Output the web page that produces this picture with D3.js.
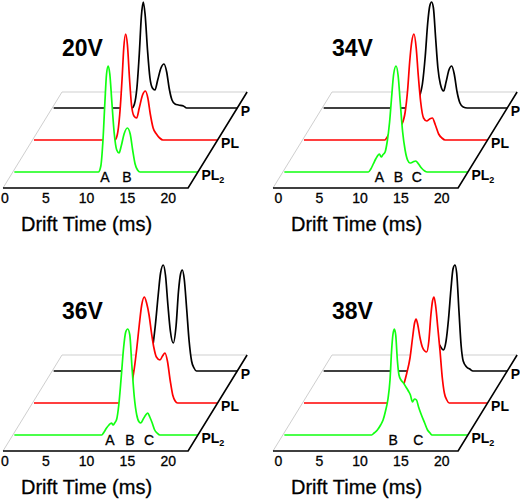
<!DOCTYPE html>
<html><head><meta charset="utf-8">
<script src="https://cdn.jsdelivr.net/npm/d3@7"></script>
<style>
html,body{margin:0;padding:0;background:#fff;}
text{font-family:"Liberation Sans",Arial,sans-serif;}
</style></head>
<body>
<script>
// ---------- data ----------
const voltages = ["20V", "34V", "36V", "38V"];
const seriesNames = ["P", "PL", "PL2"];
const tickValues = [0, 5, 10, 15, 20];
const axisTitle = "Drift Time (ms)";

// [drift time (ms), relative intensity]
const v20P = [[0,0],[9.6,0],[9.9,4],[10.2,20],[10.5,55],[10.75,92],[10.98,106],[11.2,94],[11.5,58],[11.8,30],[12.1,20],[12.41,18],[12.75,28],[13.15,40],[13.52,44],[13.85,36],[14.15,20],[14.5,8],[14.87,4],[15.3,3],[15.9,2],[16.3,0],[22.5,0]];
const v20PL = [[0,0],[9.9,0],[10.2,5],[10.5,25],[10.8,62],[11.0,92],[11.23,106],[11.45,95],[11.7,62],[11.95,35],[12.25,24],[12.58,22],[12.9,32],[13.3,45],[13.65,49],[13.95,42],[14.25,26],[14.6,12],[15.0,6],[15.4,2],[15.8,0],[22.5,0]];
const v20PL2 = [[0,0],[10.3,0],[10.6,6],[10.85,30],[11.1,70],[11.3,98],[11.5,106],[11.7,98],[11.95,70],[12.25,38],[12.55,22],[12.83,19],[13.1,26],[13.45,38],[13.85,44],[14.2,38],[14.5,22],[14.8,8],[15.1,2],[15.4,0],[22.5,0]];

const v34P = [[0,0],[10.5,0],[11.0,2],[11.4,6],[11.8,13],[12.1,24],[12.45,52],[12.75,85],[13.0,102],[13.23,106],[13.45,100],[13.72,70],[14.0,40],[14.3,24],[14.7,17],[15.0,26],[15.35,38],[15.69,42],[16.0,34],[16.35,16],[16.7,5],[17.1,1],[17.6,0],[22.5,0]];
const v34PL = [[0,0],[9.9,0],[10.2,3],[10.6,8],[11.0,10],[11.5,12],[12.0,16],[12.4,28],[12.7,50],[12.95,78],[13.2,98],[13.48,106],[13.75,92],[14.0,65],[14.3,38],[14.65,22],[15.04,19],[15.4,21],[15.73,22],[16.1,15],[16.5,6],[16.9,2],[17.3,0],[22.5,0]];
const v34PL2 = [[0,0],[10.3,0],[10.6,3],[10.9,8],[11.2,13],[11.5,17],[11.65,18],[11.87,15],[12.1,17.5],[12.35,20],[12.6,30],[12.9,50],[13.15,75],[13.4,98],[13.69,106],[13.95,96],[14.2,70],[14.5,40],[14.8,22],[15.1,12],[15.4,9],[15.75,10],[16.1,11],[16.45,8],[16.8,4],[17.2,1],[17.5,0],[22.5,0]];

const v36P = [[0,0],[11.0,0],[11.4,3],[11.8,10],[12.1,22],[12.45,45],[12.8,75],[13.1,98],[13.43,106],[13.7,96],[14.0,66],[14.3,40],[14.66,28],[15.0,45],[15.3,80],[15.55,97],[15.76,101],[16.0,92],[16.3,62],[16.6,30],[16.9,10],[17.2,3],[17.5,0],[22.5,0]];
const v36PL = [[0,0],[10.6,0],[10.9,2],[11.3,4],[11.7,10],[12.0,20],[12.3,35],[12.6,55],[12.9,78],[13.2,98],[13.52,106],[13.8,100],[14.1,88],[14.4,70],[14.7,55],[15.0,46],[15.44,43],[15.75,47],[16.05,50],[16.35,42],[16.7,22],[17.0,8],[17.3,2],[17.6,0],[22.5,0]];
const v36PL2 = [[0,0],[10.7,0],[11.0,3],[11.3,7],[11.6,10],[11.9,12],[12.1,10],[12.3,12],[12.55,16],[12.8,30],[13.1,58],[13.4,88],[13.65,103],[13.9,106],[14.15,100],[14.4,70],[14.7,38],[15.0,20],[15.3,13],[15.5,12],[15.8,16],[16.1,20],[16.35,22],[16.6,18],[16.9,12],[17.2,5],[17.5,2],[17.85,0],[22.5,0]];

const v38P = [[0,0],[10.8,0],[11.3,2],[11.8,5],[12.3,10],[12.8,18],[13.3,26],[13.8,30],[14.2,26],[14.66,21],[15.0,30],[15.3,52],[15.6,82],[15.85,102],[16.09,106],[16.3,98],[16.58,60],[16.85,25],[17.1,10],[17.52,4],[17.9,2],[18.3,0],[22.5,0]];
const v38PL = [[0,0],[10.3,0],[10.8,2],[11.3,5],[11.8,10],[12.2,18],[12.6,30],[12.99,45],[13.3,65],[13.55,80],[13.73,84],[13.95,78],[14.2,66],[14.5,56],[14.8,52],[15.03,51],[15.3,62],[15.55,88],[15.75,102],[15.93,106],[16.15,96],[16.4,75],[16.67,52],[16.95,25],[17.2,10],[17.5,3],[17.8,0],[22.5,0]];
const v38PL2 = [[0,0],[10.7,0],[11.0,2],[11.4,5],[11.8,10],[12.1,15],[12.4,24],[12.7,36],[12.95,55],[13.15,85],[13.3,100],[13.48,106],[13.65,100],[13.85,75],[14.05,60],[14.3,55],[14.6,52],[14.9,48],[15.2,44],[15.45,40],[15.7,33],[15.95,36],[16.2,35],[16.45,28],[16.8,20],[17.2,12],[17.55,5],[17.85,2],[18.1,0],[22.5,0]];

// peak labels [label, drift time]
const v20Peaks = [["A",11.11],["B",13.8]];
const v34Peaks = [["A",11.64],["B",13.97],["C",16.22]];
const v36Peaks = [["A",11.72],["B",14.17],["C",16.5]];
const v38Peaks = [["B",13.35],["C",16.41]];

// ---------- layout / style ----------
const W = 520, H = 502;
const colors = {P: "#000000", PL: "#ff0000", PL2: "#11ff11"};
const depthOf = {P: 5, PL: 3, PL2: 1};
const backDepth = 6;
const ddx = 59 / 6, ddy = -16;
const panels = [
  {v: voltages[0], ox: 0,   oy: 0,   tickShift: 0,   series: {P: v20P, PL: v20PL, PL2: v20PL2}, peaks: v20Peaks},
  {v: voltages[1], ox: 270, oy: 0,   tickShift: 3.5, series: {P: v34P, PL: v34PL, PL2: v34PL2}, peaks: v34Peaks},
  {v: voltages[2], ox: 0,   oy: 263, tickShift: 0,   series: {P: v36P, PL: v36PL, PL2: v36PL2}, peaks: v36Peaks},
  {v: voltages[3], ox: 270, oy: 263, tickShift: 3.5, series: {P: v38P, PL: v38PL, PL2: v38PL2}, peaks: v38Peaks}
];

const svg = d3.select("body").append("svg").attr("width", W).attr("height", H);

panels.forEach(p => {
  const g = svg.append("g").attr("transform", `translate(${p.ox},${p.oy})`);
  const x = d3.scaleLinear().domain([0, 22.5]).range([4.5, 188.1]);
  const hY = d3.scaleLinear().domain([0, 106]).range([0, 106]);
  const y0 = 188;
  const x0 = x(0), x1 = x(22.5);
  const bdx = backDepth * ddx, bdy = backDepth * ddy;

  // back grey frame
  g.append("path")
    .attr("d", `M${x0 - 1.5},${y0} L${x0 - 1.5 + bdx},${y0 + bdy} L${x1 + bdx},${y0 + bdy}`)
    .attr("fill", "none").attr("stroke", "#cfcfcf").attr("stroke-width", 1);

  // traces from back to front
  ["P", "PL", "PL2"].forEach(s => {
    const d = depthOf[s];
    const sx = d * ddx, base = y0 + d * ddy;
    const data = p.series[s];
    const area = d3.area().x(q => x(q[0]) + sx).y0(base).y1(q => base - hY(q[1])).curve(d3.curveMonotoneX);
    const line = d3.line().x(q => x(q[0]) + sx).y(q => base - hY(q[1])).curve(d3.curveMonotoneX);
    g.append("path").attr("d", area(data)).attr("fill", "#fff").attr("stroke", "none");
    g.append("path").attr("d", line(data)).attr("fill", "none")
      .attr("stroke", colors[s]).attr("stroke-width", 1.7).attr("stroke-linejoin", "round");
    // series label
    const t = g.append("text").attr("x", x1 + sx + 3.5).attr("y", base + 8)
      .attr("font-size", 14).attr("font-weight", "bold").attr("fill", "#000");
    if (s === "PL2") {
      t.append("tspan").text("PL");
      t.append("tspan").text("2").attr("font-size", 9).attr("dy", 3);
    } else {
      t.text(s);
    }
  });

  // front axis line and right diagonal
  g.append("path")
    .attr("d", `M${x0 - 1.5},${y0} L${x1},${y0} L${x1 + bdx},${y0 + bdy}`)
    .attr("fill", "none").attr("stroke", "#000").attr("stroke-width", 1.6);

  // tick labels
  const xt = x.copy().range([x.range()[0] + p.tickShift, x.range()[1] + p.tickShift]);
  const ax = g.append("g").attr("transform", `translate(0,${y0})`)
    .call(d3.axisBottom(xt).tickValues(tickValues).tickSize(0).tickPadding(5).tickFormat(d3.format("d")));
  ax.select(".domain").remove();
  ax.selectAll("text").attr("font-size", 14).attr("font-family", '"Liberation Sans",Arial,sans-serif')
    .attr("fill", "#000").attr("stroke", "#000").attr("stroke-width", 0.3);

  // axis title
  g.append("text").attr("x", 86.5).attr("y", 231).attr("text-anchor", "middle")
    .attr("font-size", 20).attr("fill", "#000").attr("stroke", "#000").attr("stroke-width", 0.3).text(axisTitle);

  // voltage title
  g.append("text").attr("x", 62).attr("y", 56).attr("font-size", 23).attr("font-weight", "bold")
    .attr("fill", "#000").text(p.v);

  // peak labels on front trace
  const gd = depthOf.PL2 * ddx;
  g.selectAll("text.peak").data(p.peaks).enter().append("text").attr("class", "peak")
    .attr("x", q => x(q[1]) + gd).attr("y", 182).attr("text-anchor", "middle")
    .attr("font-size", 14).attr("fill", "#000").attr("stroke", "#000").attr("stroke-width", 0.3).text(q => q[0]);
});
</script>
</body></html>
